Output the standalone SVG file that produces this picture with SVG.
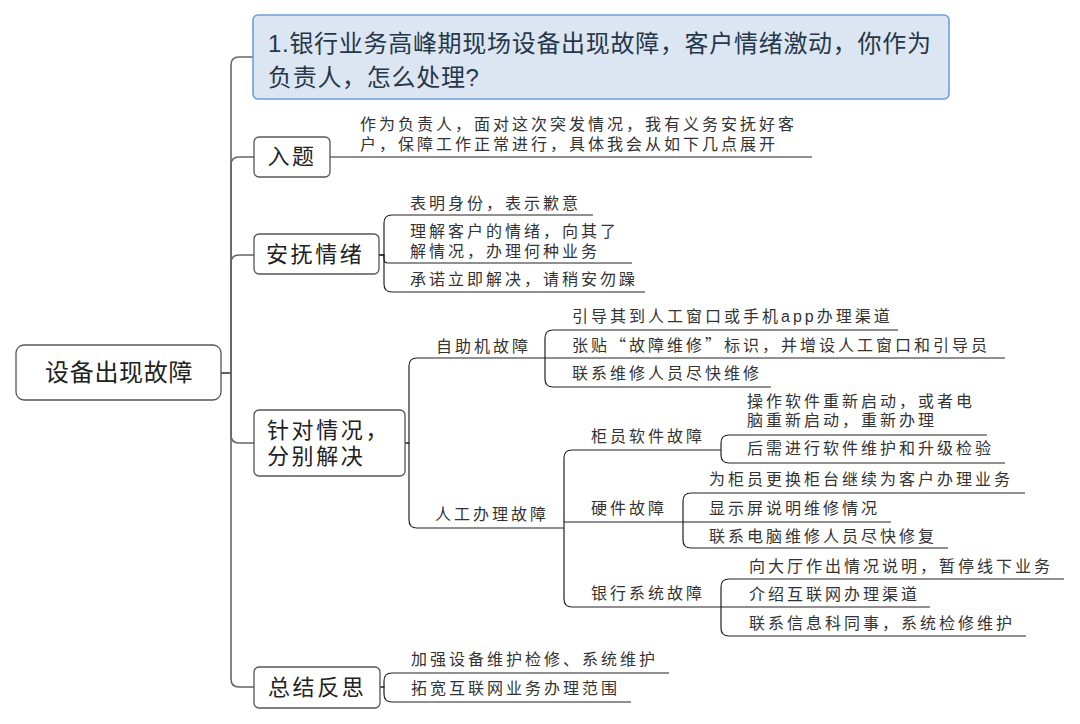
<svg xmlns="http://www.w3.org/2000/svg" width="1080" height="724" viewBox="0 0 1080 724">
<style>
text{font-family:"Liberation Sans","Noto Sans CJK SC",sans-serif;}
.cjk{font-family:"Noto Sans CJK SC",sans-serif;}
.s{font-size:16px;letter-spacing:3px;fill:#333;}
.m{font-size:22px;letter-spacing:2.6px;fill:#222;}
.t{font-size:24px;letter-spacing:0.7px;fill:#26374a;}
.r{font-size:24px;letter-spacing:0.7px;fill:#222;}
.box{fill:#fff;stroke:#555;stroke-width:1.3;}
.tbox{fill:#dce6f2;stroke:#6f9fd8;stroke-width:1.6;}
.trunk{fill:none;stroke:#666;stroke-width:1.6;}
.c{fill:none;stroke:#222;stroke-width:1.2;}
</style>
<g id="connectors">
<path class="trunk" d="M221,373 H231 V65 Q231,57 239,57 H253"/>
<path class="trunk" d="M221,373 H231 V165 Q231,157 239,157 H254"/>
<path class="trunk" d="M221,373 H231 V263 Q231,255 239,255 H254"/>
<path class="trunk" d="M221,373 H231 V435 Q231,443 239,443 H254"/>
<path class="trunk" d="M221,373 H231 V679 Q231,687 239,687 H254"/>
<path class="c" d="M330,157 H812"/>
<path class="c" d="M379,255 H384 V223 Q384,215 392,215 H593"/>
<path class="c" d="M379,255 H384 V259 Q384,263 388,263 H632"/>
<path class="c" d="M379,255 H384 V284 Q384,292 392,292 H645"/>
<path class="c" d="M405,443 H409 V366 Q409,358 417,358 H545"/>
<path class="c" d="M405,443 H409 V520 Q409,528 417,528 H564"/>
<path class="c" d="M545,358 V338 Q545,330 553,330 H898"/>
<path class="c" d="M545,358 H1005"/>
<path class="c" d="M545,358 V379 Q545,387 553,387 H771"/>
<path class="c" d="M564,528 V458 Q564,450 572,450 H721"/>
<path class="c" d="M564,528 V599 Q564,607 572,607 H721"/>
<path class="c" d="M564,522 H683"/>
<path class="c" d="M721,450 V443 Q721,435 729,435 H987"/>
<path class="c" d="M721,450 V455 Q721,463 729,463 H1005"/>
<path class="c" d="M683,522 V501 Q683,493 691,493 H1025"/>
<path class="c" d="M683,522 H891"/>
<path class="c" d="M683,522 V540 Q683,548 691,548 H948"/>
<path class="c" d="M721,607 V587 Q721,579 729,579 H1064"/>
<path class="c" d="M721,607 H930"/>
<path class="c" d="M721,607 V628 Q721,636 729,636 H1026"/>
<path class="c" d="M380,687 H384 V681 Q384,673 392,673 H669"/>
<path class="c" d="M380,687 H384 V694 Q384,702 392,702 H631"/>
</g>
<g id="root">
<rect class="box" x="16" y="345" width="205" height="55" rx="8"/>
<text class="r" x="45" y="381">设备出现故障</text>
</g>
<g id="title">
<rect class="tbox" x="253" y="15" width="696" height="84" rx="5"/>
<text class="t"><tspan x="268" y="51.5">1.银行业务高峰期现场设备出现故障，客户情绪激动，你作为</tspan><tspan x="268" y="85.5">负责人，怎么处理?</tspan></text>
</g>
<g id="rt">
<rect class="box" x="254" y="137" width="76" height="40" rx="5"/>
<text class="m" x="267.5" y="163.5">入题</text>
</g>
<g id="rt-1">
<text class="s"><tspan x="360" y="130">作为负责人，面对这次突发情况，我有义务安抚好客</tspan><tspan x="360" y="150">户，保障工作正常进行，具体我会从如下几点展开</tspan></text>
</g>
<g id="afqx">
<rect class="box" x="254" y="234" width="125" height="40" rx="5"/>
<text class="m" x="266" y="261.5">安抚情绪</text>
</g>
<g id="afqx-1"><text class="s" x="410" y="209">表明身份，表示歉意</text></g>
<g id="afqx-2">
<text class="s"><tspan x="410" y="236.5">理解客户的情绪，向其了</tspan><tspan x="410" y="256.5">解情况，办理何种业务</tspan></text>
</g>
<g id="afqx-3"><text class="s" x="410" y="284.5">承诺立即解决，请稍安勿躁</text></g>
<g id="zdqk">
<rect class="box" x="254" y="410" width="151" height="66" rx="5"/>
<text class="m"><tspan x="267" y="438">针对情况，</tspan><tspan x="267" y="464">分别解决</tspan></text>
</g>
<g id="zzj"><text class="s" x="436" y="351.5">自助机故障</text></g>
<g id="zzj-1"><text class="s" x="572" y="321.5">引导其到人工窗口或手机app办理渠道</text></g>
<g id="zzj-2"><text class="s" x="572" y="351">张贴<tspan class="cjk">“</tspan>故障维修<tspan class="cjk">”</tspan>标识，并增设人工窗口和引导员</text></g>
<g id="zzj-3"><text class="s" x="572" y="378.5">联系维修人员尽快维修</text></g>
<g id="rgbl"><text class="s" x="435" y="520">人工办理故障</text></g>
<g id="gyrj"><text class="s" x="591" y="441.5">柜员软件故障</text></g>
<g id="gyrj-1">
<text class="s"><tspan x="747" y="407">操作软件重新启动，或者电</tspan><tspan x="747" y="426">脑重新启动，重新办理</tspan></text>
</g>
<g id="gyrj-2"><text class="s" x="747" y="454">后需进行软件维护和升级检验</text></g>
<g id="yj"><text class="s" x="591" y="513.5">硬件故障</text></g>
<g id="yj-1"><text class="s" x="709" y="484.5">为柜员更换柜台继续为客户办理业务</text></g>
<g id="yj-2"><text class="s" x="709" y="513.5">显示屏说明维修情况</text></g>
<g id="yj-3"><text class="s" x="709" y="542">联系电脑维修人员尽快修复</text></g>
<g id="yhxt"><text class="s" x="591" y="598.5">银行系统故障</text></g>
<g id="yhxt-1"><text class="s" x="749" y="571.5">向大厅作出情况说明，暂停线下业务</text></g>
<g id="yhxt-2"><text class="s" x="749" y="600">介绍互联网办理渠道</text></g>
<g id="yhxt-3"><text class="s" x="749" y="628.5">联系信息科同事，系统检修维护</text></g>
<g id="zjfs">
<rect class="box" x="254" y="667" width="126" height="41" rx="5"/>
<text class="m" x="268" y="695">总结反思</text>
</g>
<g id="zjfs-1"><text class="s" x="411" y="665">加强设备维护检修、系统维护</text></g>
<g id="zjfs-2"><text class="s" x="411" y="694">拓宽互联网业务办理范围</text></g>
</svg>
